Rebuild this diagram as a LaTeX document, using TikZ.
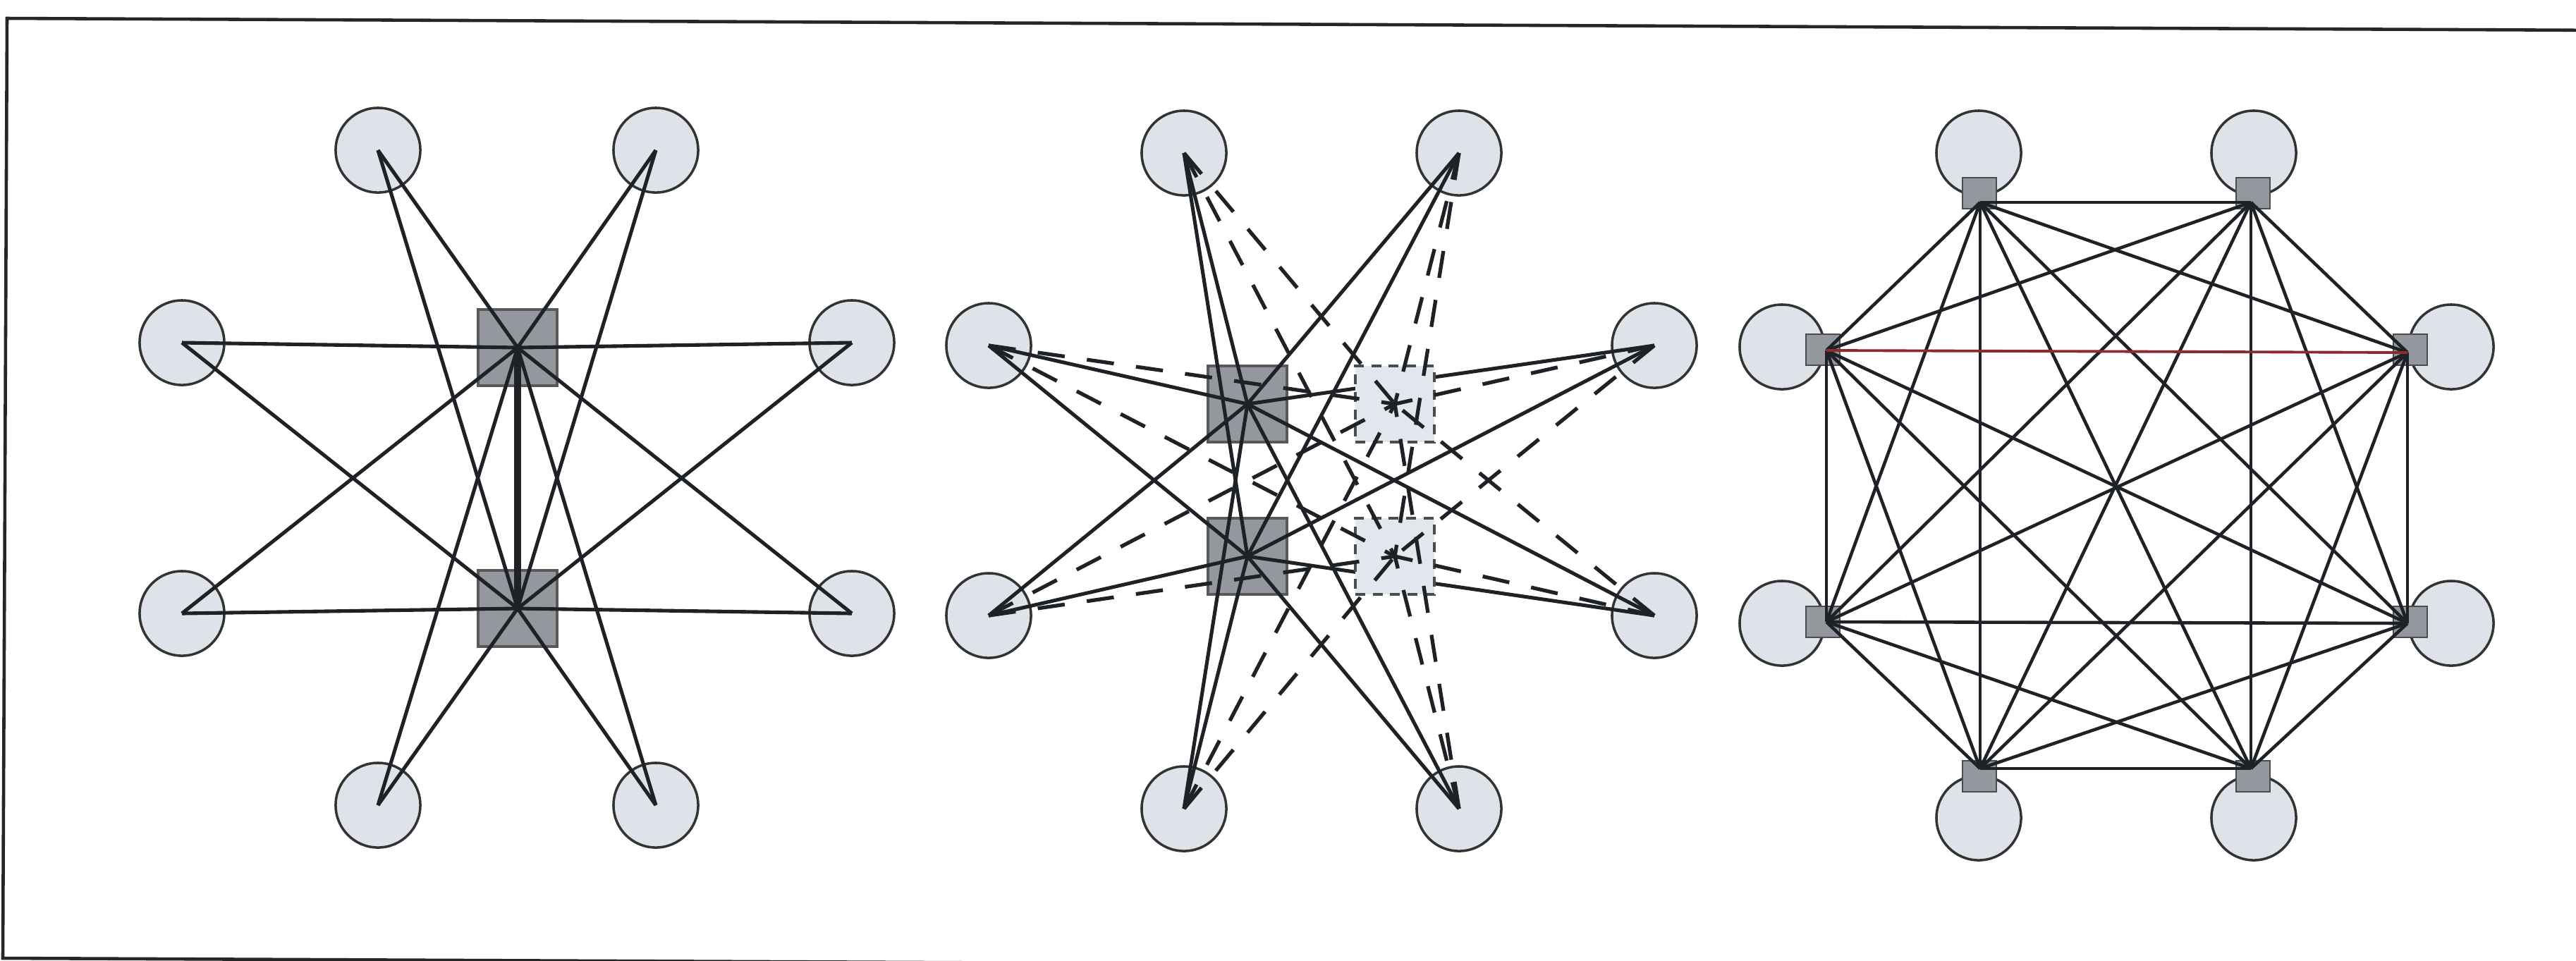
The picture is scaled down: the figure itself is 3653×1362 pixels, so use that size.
\documentclass[tikz,border=0pt]{standalone}
\definecolor{hostfill}{RGB}{222,226,233}
\definecolor{hubfill}{RGB}{148,151,157}
\definecolor{sparefill}{RGB}{226,230,237}
\definecolor{linkcol}{RGB}{30,33,37}
\definecolor{redlink}{RGB}{140,42,46}
\begin{document}
\begin{tikzpicture}[x=0.01cm,y=-0.01cm,
  host/.style={circle,draw=black!80,line width=1pt,fill=hostfill,minimum size=1.2cm,inner sep=0pt},
  hub/.style={rectangle,draw=black!65,line width=0.9pt,fill=hubfill,minimum width=1.12cm,minimum height=1.08cm,inner sep=0pt},
  spare/.style={rectangle,draw=black!70,line width=0.9pt,dash pattern=on 4pt off 3pt,fill=sparefill,minimum width=1.12cm,minimum height=1.08cm,inner sep=0pt},
  port/.style={rectangle,draw=black!70,line width=0.8pt,fill=hubfill,minimum width=0.48cm,minimum height=0.44cm,inner sep=0pt},
  link/.style={draw=linkcol,line width=1.45pt},
  backup/.style={draw=linkcol,line width=1.5pt,dash pattern=on 11pt off 9pt},
  trunk/.style={draw=linkcol,line width=3pt},
  mesh/.style={draw=linkcol,line width=1.3pt},
  frame/.style={draw=black!85,line width=1.3pt}
]
\useasboundingbox (0,0) rectangle (3653,1362);
\fill[white] (0,0) rectangle (3653,1362);
\begin{scope}
\clip (0,0) rectangle (3653,1362);
\draw[frame] (3700,43) -- (10,26) -- (4,1359) -- (3700,1376);
\end{scope}

% ---------- panel 1 ----------
\node[host] (a1) at (536,213) {};
\node[host] (a2) at (930,213) {};
\node[host] (a3) at (258,486) {};
\node[host] (a4) at (1208,486) {};
\node[host] (a5) at (258,870) {};
\node[host] (a6) at (1208,870) {};
\node[host] (a7) at (536,1142) {};
\node[host] (a8) at (930,1142) {};
\node[hub] (ah1) at (734,493) {};
\node[hub] (ah2) at (734,863) {};
\foreach \i in {1,...,8}{
  \draw[link] (a\i.center) -- (ah1.center);
  \draw[link] (a\i.center) -- (ah2.center);
}
\draw[trunk] (ah1.center) -- (ah2.center);

% ---------- panel 2 ----------
\node[host] (b1) at (1679,217) {};
\node[host] (b2) at (2069,217) {};
\node[host] (b3) at (1402,490) {};
\node[host] (b4) at (2346,490) {};
\node[host] (b5) at (1402,873) {};
\node[host] (b6) at (2346,873) {};
\node[host] (b7) at (1679,1147) {};
\node[host] (b8) at (2069,1147) {};
\node[hub] (bs1) at (1769,573) {};
\node[hub] (bs2) at (1769,789) {};
\foreach \i in {1,...,8}{
  \draw[link] (b\i.center) -- (bs1.center);
  \draw[link] (b\i.center) -- (bs2.center);
}
\node[spare] (bd1) at (1978,573) {};
\node[spare] (bd2) at (1978,789) {};
\foreach \i in {1,...,8}{
  \draw[backup] (b\i.center) -- (bd1.center);
  \draw[backup] (b\i.center) -- (bd2.center);
}

% ---------- panel 3 ----------
\node[host] (c1) at (2806,217) {};
\node[host] (c2) at (3196,217) {};
\node[host] (c3) at (2527,492) {};
\node[host] (c4) at (3476,492) {};
\node[host] (c5) at (2527,884) {};
\node[host] (c6) at (3476,884) {};
\node[host] (c7) at (2806,1160) {};
\node[host] (c8) at (3196,1160) {};
\node[port] (q1) at (2807,274) {};
\node[port] (q2) at (3195,274) {};
\node[port] (q3) at (2585,496) {};
\node[port] (q4) at (3418,496) {};
\node[port] (q5) at (2585,882) {};
\node[port] (q6) at (3418,882) {};
\node[port] (q7) at (2807,1101) {};
\node[port] (q8) at (3195,1101) {};
\coordinate (e1) at (2808,287);
\coordinate (e2) at (3192,287);
\coordinate (e3) at (2590,497);
\coordinate (e4) at (3414,500);
\coordinate (e5) at (2590,882);
\coordinate (e6) at (3414,884);
\coordinate (e7) at (2808,1090);
\coordinate (e8) at (3192,1090);
\foreach \i in {1,...,7}{
  \pgfmathtruncatemacro\k{\i+1}
  \foreach \j in {\k,...,8}{
    \pgfmathtruncatemacro\s{10*\i+\j}
    \ifnum\s=34\relax\else\draw[mesh] (e\i) -- (e\j);\fi
  }
}
\draw[mesh,draw=redlink,line width=1.1pt] (e3) -- (e4);
\end{tikzpicture}
\end{document}
